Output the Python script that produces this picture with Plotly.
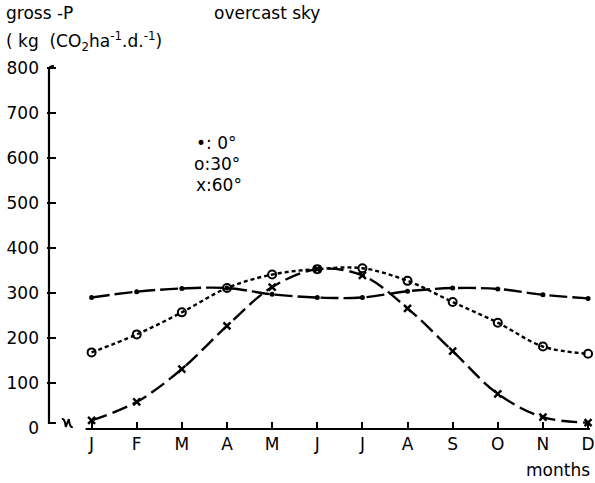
import plotly.graph_objects as go

# Monthly gross photosynthesis under an overcast sky, for three latitudes
months = ["J", "F", "M", "A", "M", "J", "J", "A", "S", "O", "N", "D"]
lat_0 = [290, 303, 310, 311, 297, 290, 290, 304, 311, 309, 296, 288]
lat_30 = [168, 208, 257, 311, 341, 353, 355, 327, 280, 234, 181, 165]
lat_60 = [17, 58, 131, 227, 313, 353, 339, 266, 171, 76, 24, 12]
y_ticks = [0, 100, 200, 300, 400, 500, 600, 700, 800]

W, H = 595, 483
L, R, T, B = 47, 0, 60, 55          # plot area: x 47..595, y 60..428
PW, PH = W - L - R, H - T - B
X0PX, DXPX = 92, 45.55              # pixel of first month, pixels per month
YPX_PER = 0.45                      # pixels per unit on y

FONT = "DejaVu Sans, sans-serif"
FS = 17

def px(x):
    return (x - L) / PW

def py(y):
    return (H - B - y) / PH

xs = list(range(len(months)))
x_range = [(L - X0PX) / DXPX, (W - R - X0PX) / DXPX]
y_range = [0, PH / YPX_PER]

fig = go.Figure()

fig.add_trace(go.Scatter(
    x=xs, y=lat_0, mode="lines+markers", line_shape="spline",
    line=dict(color="black", width=2.4, dash="18px,5px"),
    marker=dict(symbol="circle", size=5, color="black"),
    cliponaxis=False, showlegend=False))
fig.add_trace(go.Scatter(
    x=xs, y=lat_30, mode="lines+markers", line_shape="spline",
    line=dict(color="black", width=2.4, dash="4px,3px"),
    marker=dict(symbol="circle-open", size=8, color="black", line=dict(width=2)),
    cliponaxis=False, showlegend=False))
fig.add_trace(go.Scatter(
    x=xs, y=lat_60, mode="lines+markers", line_shape="spline",
    line=dict(color="black", width=2.4, dash="16px,6px"),
    marker=dict(symbol="x-thin-open", size=7, color="black", line=dict(width=2.4)),
    cliponaxis=False, showlegend=False))

shapes = [
    # y axis with bottom corner and small top hook
    dict(type="path", xref="paper", yref="paper",
         path=f"M {px(56)} {py(423)} L {px(49)} {py(423)} L {px(49)} {py(70)} "
              f"Q {px(49)} {py(66)} {px(54)} {py(66)}",
         line=dict(color="black", width=2.2)),
    # axis break mark
    dict(type="path", xref="paper", yref="paper",
         path=f"M {px(62)} {py(419)} Q {px(65)} {py(418)} {px(66)} {py(427)} "
              f"L {px(69)} {py(419)} Q {px(70)} {py(428)} {px(73)} {py(427)}",
         line=dict(color="black", width=2)),
    # x axis line
    dict(type="line", xref="paper", yref="paper",
         x0=px(86), x1=1, y0=py(429), y1=py(429),
         line=dict(color="black", width=2.2)),
]

annotations = [
    dict(text="gross -P", x=px(4), y=py(13), xanchor="left", yanchor="middle"),
    dict(text="overcast sky", x=px(214), y=py(13), xanchor="left", yanchor="middle"),
    dict(text="( kg  (CO<sub>2</sub>ha<sup>-1</sup>.d.<sup>-1</sup>)", x=px(4), y=py(42),
         xanchor="left", yanchor="middle"),
    dict(text="•: 0°", x=px(195), y=py(143), xanchor="left", yanchor="middle"),
    dict(text="o:30°", x=px(193), y=py(164), xanchor="left", yanchor="middle"),
    dict(text="x:60°", x=px(195), y=py(185), xanchor="left", yanchor="middle"),
    dict(text="months", x=px(597), y=py(470), xanchor="right", yanchor="middle"),
]
for a in annotations:
    a.update(xref="paper", yref="paper", showarrow=False,
             font=dict(family=FONT, size=FS, color="black"))

fig.update_layout(
    width=W, height=H,
    margin=dict(l=L, r=R, t=T, b=B),
    paper_bgcolor="white", plot_bgcolor="white",
    font=dict(family=FONT, size=FS, color="black"),
    shapes=shapes, annotations=annotations,
    xaxis=dict(range=x_range, tickvals=xs, ticktext=months,
               showgrid=False, zeroline=False, showline=False,
               ticks="inside", ticklen=6, tickwidth=2, tickcolor="black",
               ticklabelstandoff=4, ticklabeloverflow="allow",
               tickfont=dict(family=FONT, size=FS)),
    yaxis=dict(range=y_range, tickvals=y_ticks,
               showgrid=False, zeroline=False, showline=False,
               ticks="inside", ticklen=9, tickwidth=2, tickcolor="black",
               ticklabelstandoff=7, tickfont=dict(family=FONT, size=FS)),
)

fig.write_html("out.html")
